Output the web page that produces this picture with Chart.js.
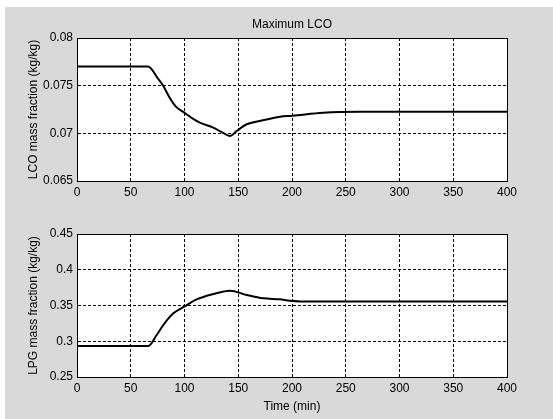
<!DOCTYPE html>
<html><head><meta charset="utf-8">
<script src="https://cdn.jsdelivr.net/npm/chart.js@4/dist/chart.umd.min.js"></script>
<style>
html,body{margin:0;padding:0;background:#fff;}
#wrap{position:relative;width:553px;height:419px;background:#fff;overflow:hidden;}
#bg{position:absolute;left:5px;top:7px;width:548px;height:412px;background:#d9d9d9;}
.c{position:absolute;left:0;}
</style></head><body>
<div id="wrap"><div id="bg"></div>
<div class="c" style="top:0;width:553px;height:210px"><canvas id="c1"></canvas></div>
<div class="c" style="top:210px;width:553px;height:209px"><canvas id="c2"></canvas></div>
</div>
<script>
const title = "Maximum LCO";
const xLabel = "Time (min)";
const lcoLabel = "LCO mass fraction (kg/kg)";
const lpgLabel = "LPG mass fraction (kg/kg)";
const lcoTicks = [0.065, 0.07, 0.075, 0.08];
const lpgTicks = [0.25, 0.3, 0.35, 0.4, 0.45];
const timeTicks = [0, 50, 100, 150, 200, 250, 300, 350, 400];

const lcoT = [0, 66, 75.6, 80.3, 86.5, 92, 99.8, 107, 114.4, 126.8, 135, 142.3, 148.5, 157.9, 170.2, 188.8, 200.3, 229, 263, 400];
const lcoV = [0.077, 0.077, 0.0757, 0.07497, 0.07367, 0.0728, 0.07217, 0.0716, 0.07112, 0.0706, 0.0701, 0.06972, 0.07024, 0.07095, 0.0713, 0.07175, 0.07185, 0.07217, 0.07227, 0.07227];
const lpgT = [0, 66.3, 74.1, 80.3, 89.6, 99.8, 111.3, 126.8, 142.3, 157.9, 173.3, 188.8, 198, 219.8, 400];
const lpgV = [0.2934, 0.2934, 0.3087, 0.3227, 0.339, 0.3484, 0.3586, 0.3661, 0.3707, 0.3647, 0.36, 0.3586, 0.3567, 0.3555, 0.3555];

const FONT = {family: "'Liberation Sans', Arial, sans-serif", size: 12};
const frame = {
  id: 'frame',
  afterDatasetsDraw(chart) {
    const a = chart.chartArea, ctx = chart.ctx;
    ctx.save();
    ctx.strokeStyle = '#000'; ctx.lineWidth = 1; ctx.setLineDash([]);
    ctx.strokeRect(Math.round(a.left) + 0.5, Math.round(a.top) + 0.5, Math.round(a.right - a.left), Math.round(a.bottom - a.top));
    ctx.restore();
  }
};
const bgFill = {
  id: 'bgFill',
  beforeDraw(chart) {
    const a = chart.chartArea, ctx = chart.ctx;
    ctx.save(); ctx.fillStyle = '#fff';
    ctx.fillRect(a.left, a.top, a.right - a.left, a.bottom - a.top);
    ctx.restore();
  }
};
const fmt = v => String(Math.round(v * 1000) / 1000);

function make(id, T, V, yTicks, yLabel, showTitle, showX, topPad) {
  const ymin = yTicks[0], ymax = yTicks[yTicks.length - 1];
  return new Chart(document.getElementById(id), {
    type: 'line',
    data: {datasets: [{data: T.map((t, i) => ({x: t, y: V[i]})), borderColor: '#000', borderWidth: 2, pointRadius: 0, cubicInterpolationMode: 'monotone', fill: false}]},
    options: {
      responsive: true, maintainAspectRatio: false, animation: false,
      layout: {padding: {left: 0, right: 46, top: topPad, bottom: 0}},
      plugins: {
        legend: {display: false}, tooltip: {enabled: false},
        title: {display: showTitle, fullSize: false, text: title, color: '#000', font: {...FONT, weight: 'normal'}, padding: {top: 17, bottom: 6.6}}
      },
      scales: {
        x: {
          type: 'linear', min: 0, max: 400,
          afterBuildTicks(ax) { ax.ticks = timeTicks.map(v => ({value: v})); },
          afterFit(ax) { ax.height = showX ? 42 : 29; },
          ticks: {color: '#000', font: FONT, padding: 4, maxRotation: 0, callback: v => String(v)},
          grid: {color: '#000', drawTicks: false, lineWidth: 1},
          border: {display: true, color: '#000', dash: [3, 2]},
          title: {display: showX, text: xLabel, color: '#000', font: FONT, padding: {top: 0, bottom: 5}}
        },
        y: {
          type: 'linear', min: ymin, max: ymax,
          afterBuildTicks(ax) { ax.ticks = yTicks.map(v => ({value: v})); },
          afterFit(ax) { ax.width = 77; },
          ticks: {color: '#000', font: FONT, padding: 4, callback: v => fmt(v)},
          grid: {color: '#000', drawTicks: false, lineWidth: 1},
          border: {display: true, color: '#000', dash: [3, 2]},
          title: {display: true, text: yLabel, color: '#000', font: FONT, padding: {top: 26, bottom: 0}}
        }
      }
    },
    plugins: [bgFill, frame]
  });
}
make('c1', lcoT, lcoV, lcoTicks, lcoLabel, true, false, 0);
make('c2', lpgT, lpgV, lpgTicks, lpgLabel, false, true, 24);
</script>
</body></html>
